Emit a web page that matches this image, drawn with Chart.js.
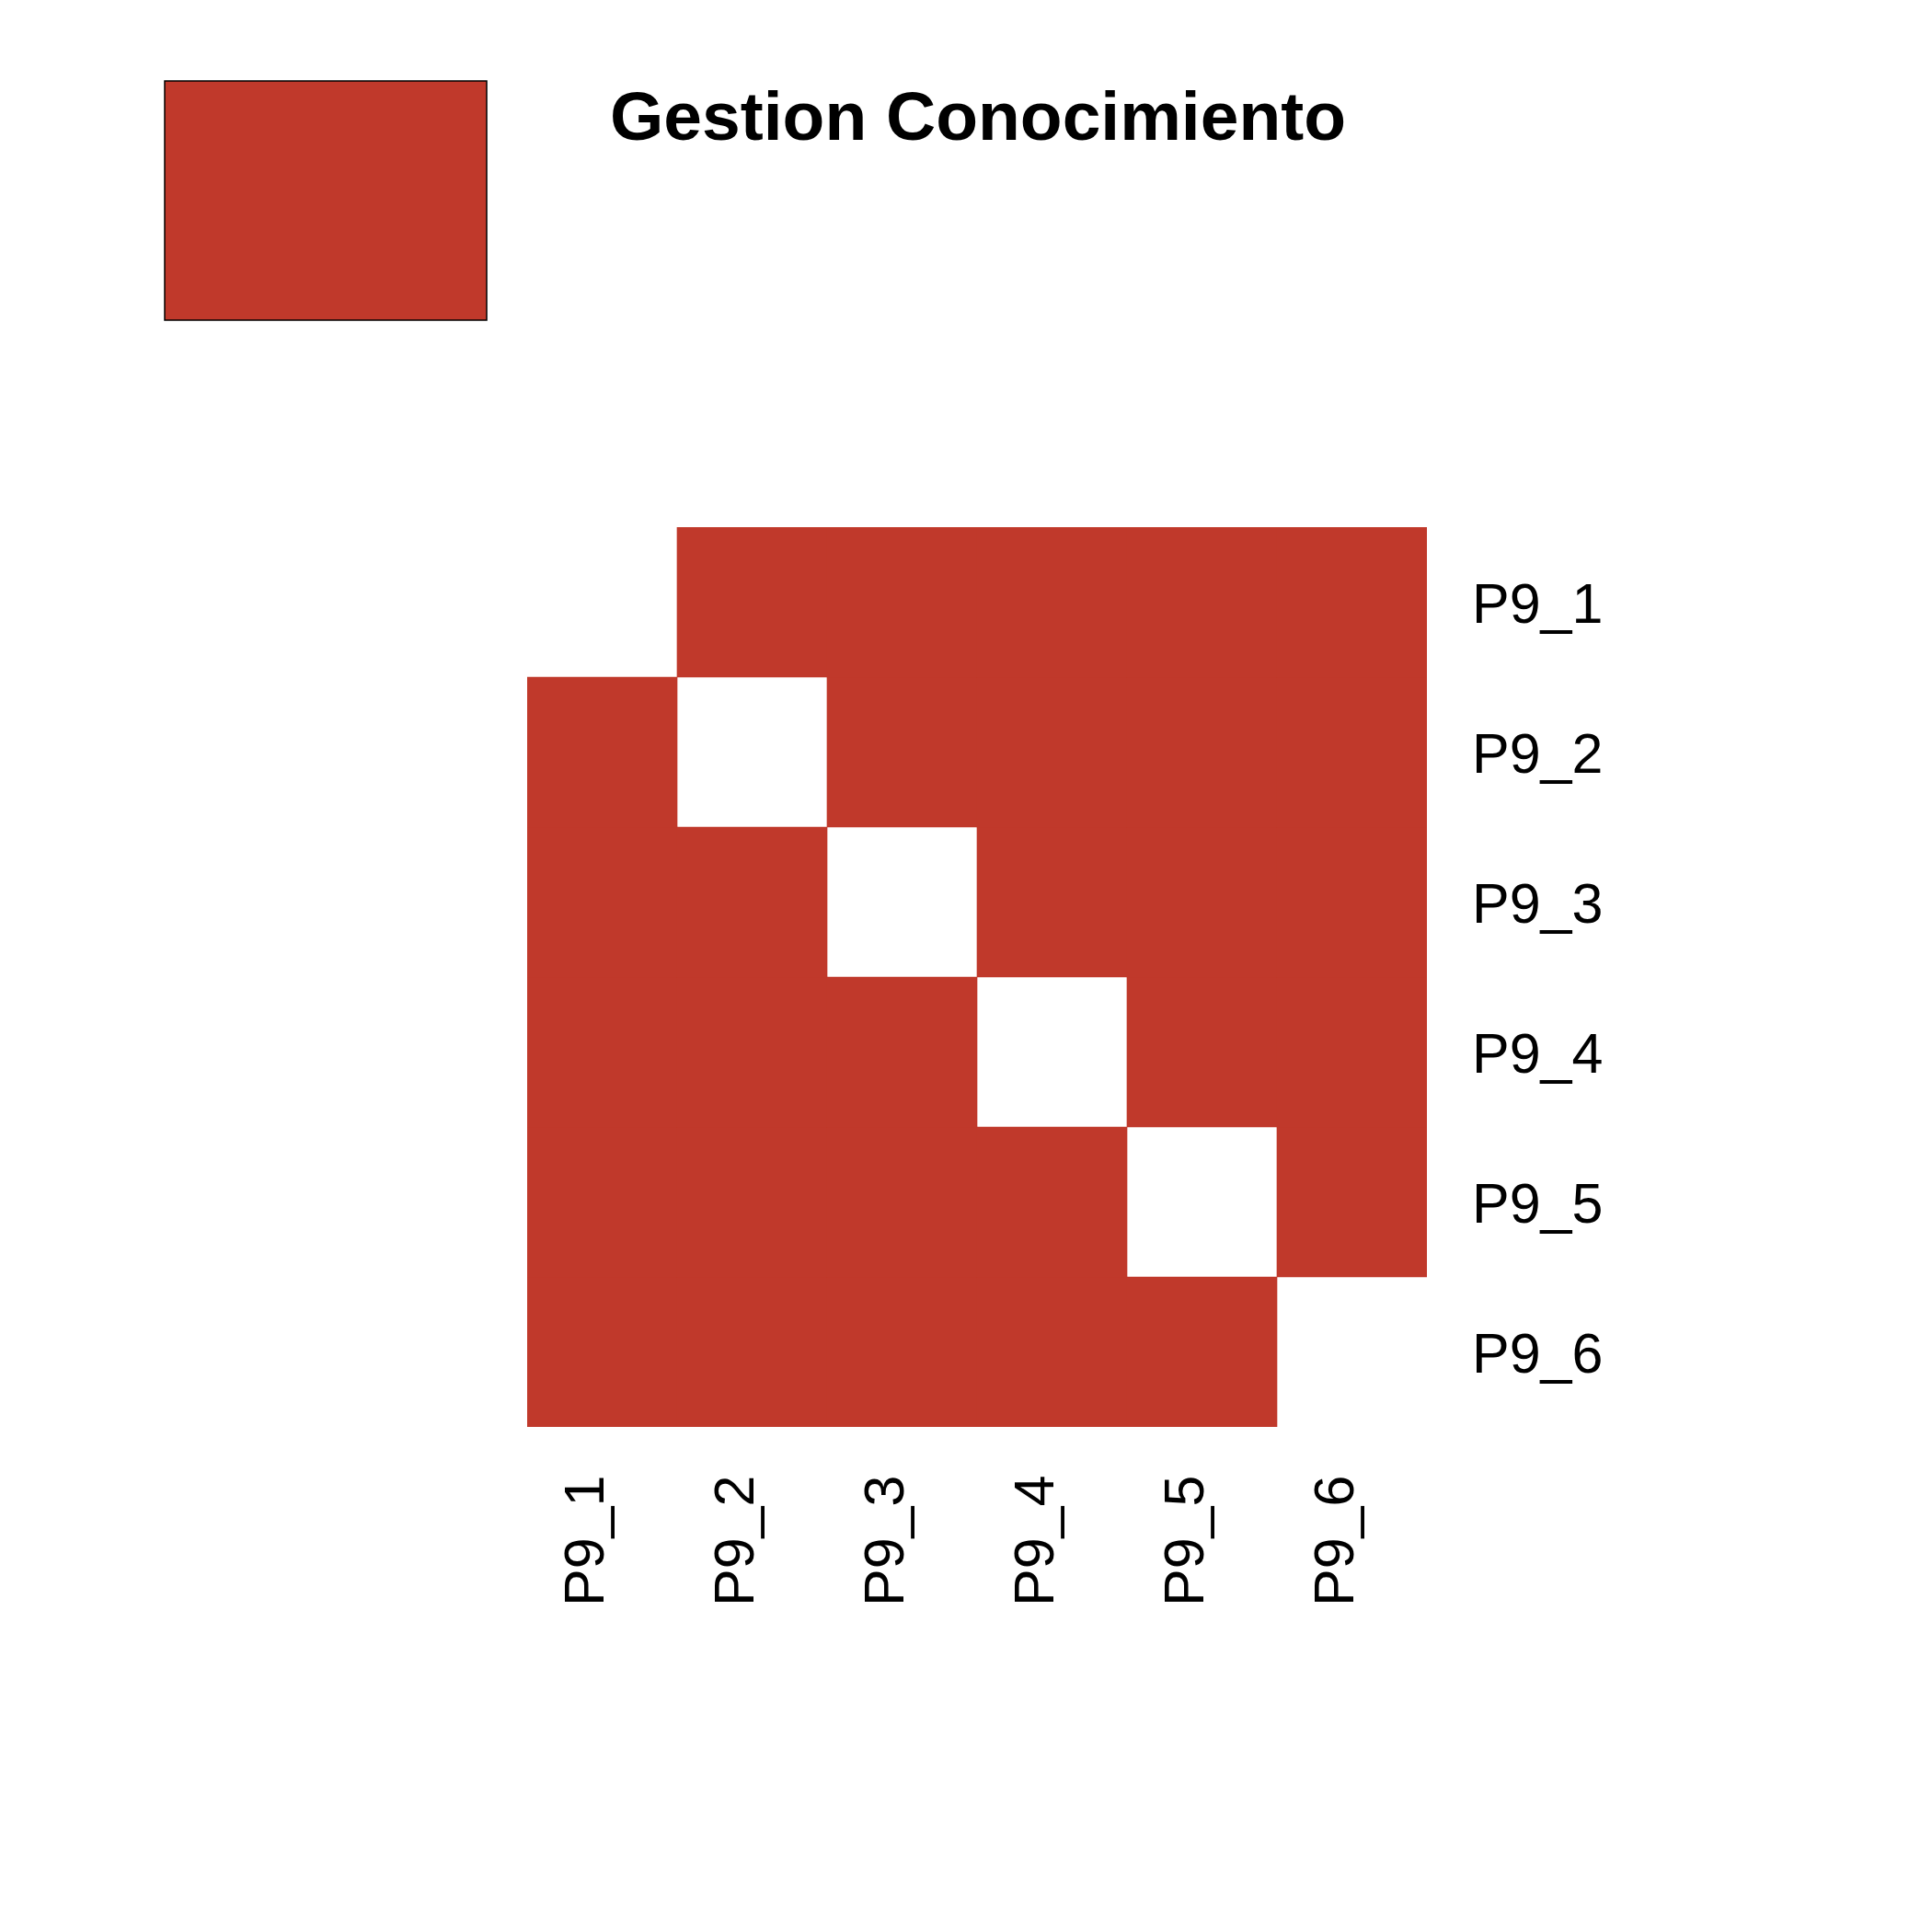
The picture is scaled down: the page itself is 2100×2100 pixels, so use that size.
<!DOCTYPE html>
<html>
<head>
<meta charset="utf-8">
<script src="https://cdn.jsdelivr.net/npm/chart.js@4.4.1/dist/chart.umd.min.js"></script>
<style>
html,body{margin:0;padding:0;background:#ffffff;}
#wrap{width:2100px;height:2100px;}
</style>
</head>
<body>
<div id="wrap"><canvas id="c" width="2100" height="2100"></canvas></div>
<script>
// ---- data ----
const titleText = 'Gestion Conocimiento';
const rowLabels = ['P9_1', 'P9_2', 'P9_3', 'P9_4', 'P9_5', 'P9_6'];
const colLabels = ['P9_1', 'P9_2', 'P9_3', 'P9_4', 'P9_5', 'P9_6'];
// cell values per row (null = empty diagonal cell)
const rowP9_1 = [null, 1, 1, 1, 1, 1];
const rowP9_2 = [1, null, 1, 1, 1, 1];
const rowP9_3 = [1, 1, null, 1, 1, 1];
const rowP9_4 = [1, 1, 1, null, 1, 1];
const rowP9_5 = [1, 1, 1, 1, null, 1];
const rowP9_6 = [1, 1, 1, 1, 1, null];
const matrix = [rowP9_1, rowP9_2, rowP9_3, rowP9_4, rowP9_5, rowP9_6];

const cellColor = '#C0392B';
const font = '"Liberation Sans", Arial, Helvetica, sans-serif';

const datasets = matrix.map((row, i) => ({
  label: rowLabels[i],
  data: row.map(v => (v === null ? null : [i, i + 1])),
  backgroundColor: cellColor,
  borderWidth: 0,
  borderSkipped: false,
  barPercentage: 1.0,
  categoryPercentage: 1.0,
  grouped: false
}));

const decor = {
  id: 'decor',
  afterDraw(chart) {
    const ctx = chart.ctx;
    const xs = chart.scales.x, ys = chart.scales.y;
    ctx.save();
    // legend key
    ctx.fillStyle = cellColor;
    ctx.fillRect(179, 88, 350, 260);
    ctx.strokeStyle = '#000000';
    ctx.lineWidth = 1.5;
    ctx.strokeRect(179, 88, 350, 260);
    // title
    ctx.fillStyle = '#000000';
    ctx.font = 'bold 75px ' + font;
    ctx.textAlign = 'left';
    ctx.textBaseline = 'alphabetic';
    ctx.fillText(titleText, 663, 152);
    // row labels (right side)
    ctx.font = '61px ' + font;
    rowLabels.forEach((lab, i) => {
      const y = ys.getPixelForValue(i + 0.5);
      ctx.fillText(lab, 1600, y + 22);
    });
    // column labels (bottom, rotated)
    colLabels.forEach((lab, j) => {
      const x = xs.getPixelForValue(j);
      ctx.save();
      ctx.translate(x + 1, 1746);
      ctx.rotate(-Math.PI / 2);
      ctx.textAlign = 'left';
      ctx.fillText(lab, 0, 0);
      ctx.restore();
    });
    ctx.restore();
  }
};

new Chart(document.getElementById('c'), {
  type: 'bar',
  data: { labels: colLabels, datasets: datasets },
  options: {
    responsive: false,
    animation: false,
    layout: { padding: { left: 573, right: 549, top: 573, bottom: 549 } },
    plugins: { legend: { display: false }, title: { display: false }, tooltip: { enabled: false } },
    scales: {
      x: { display: false, offset: true, grid: { display: false } },
      y: { display: false, min: 0, max: 6, reverse: true, grid: { display: false } }
    }
  },
  plugins: [decor]
});
</script>
</body>
</html>
